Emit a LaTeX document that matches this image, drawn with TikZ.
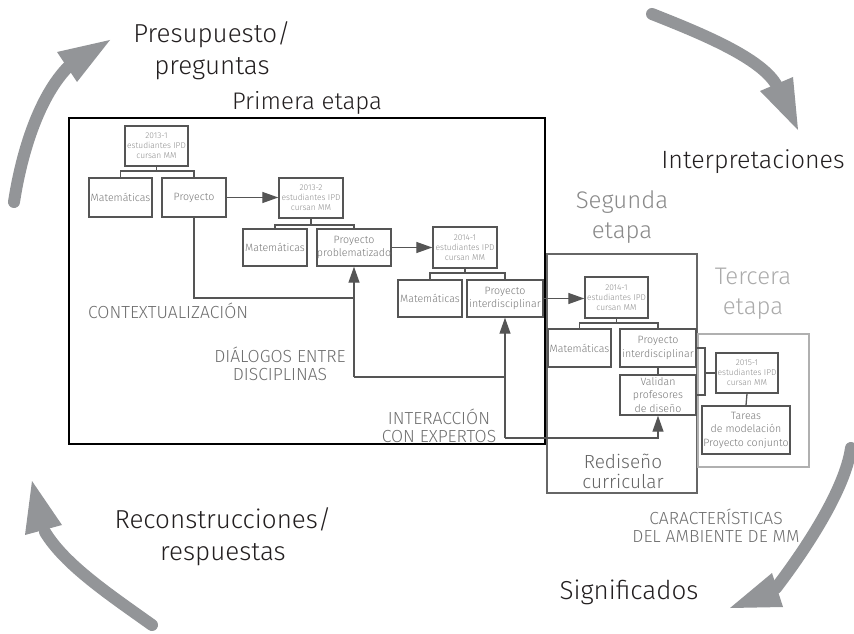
\documentclass[tikz,border=0pt]{standalone}
\usepackage{fontspec}
\IfFontExistsTF{FiraSans-Light.otf}{\setmainfont{FiraSans-Light.otf}}{\IfFontExistsTF{Fira Sans Light}{\setmainfont{Fira Sans Light}}{\setmainfont{Lato}}}
\usetikzlibrary{arrows.meta}
\definecolor{arrowgray}{HTML}{939598}
\definecolor{linegray}{HTML}{555555}
\definecolor{boxtxt}{HTML}{777777}
\definecolor{smalltxt}{HTML}{8C8C8C}
\definecolor{capgray}{HTML}{6E6E6E}
\definecolor{seggray}{HTML}{666666}
\definecolor{segtxt}{HTML}{8A8A8A}
\definecolor{tergray}{HTML}{B0B0B0}
\definecolor{tertxt}{HTML}{ABABAB}
\definecolor{nearblack}{HTML}{231F20}
\begin{document}
\begin{tikzpicture}[x=1pt,y=-1pt,
  box/.style={draw=linegray, line width=1.4pt, inner sep=0pt, align=center, text=boxtxt,
              font=\fontsize{10.6}{13.5}\selectfont},
  sbox/.style={box, text=smalltxt, font=\fontsize{8.4}{10}\selectfont},
  conn/.style={draw=linegray, line width=1.3pt},
  arr/.style={conn, -{Triangle[length=16pt,width=11pt]}},
  bigarrow/.style={draw=arrowgray, line width=12pt, line cap=round},
  biglbl/.style={font=\fontsize{26}{32}\selectfont, text=nearblack, align=center, inner sep=0pt},
  stagelbl/.style={font=\fontsize{24}{30}\selectfont, align=center, inner sep=0pt},
  redlbl/.style={font=\fontsize{19}{20}\selectfont, text=seggray, align=center, inner sep=0pt},
  caps/.style={font=\fontsize{17.5}{18}\selectfont, text=capgray, align=center, inner sep=0pt},
]
\useasboundingbox (0,0) rectangle (854,634);

% ---- big cycle arrows ----
\draw[bigarrow] (14,202) .. controls (22,150) and (40,95) .. (69,66);
\fill[arrowgray] (57,52) -- (110,40) -- (77,82) -- cycle;
\draw[bigarrow] (652,14) .. controls (700,33) and (762,58) .. (777,86);
\fill[arrowgray] (760,91) -- (793,77) -- (798,130) -- cycle;
\draw[bigarrow] (851,448) .. controls (845,490) and (805,550) .. (776,588);
\fill[arrowgray] (772,573) -- (783,607) -- (730,608) -- cycle;
\draw[bigarrow] (152,625) .. controls (110,595) and (65,565) .. (45,532);
\fill[arrowgray] (25,535) -- (62,525) -- (32,481) -- cycle;

% ---- labels ----
\node[biglbl] (pres) at (212,51) {Presupuesto/\\preguntas};
\node[biglbl, font=\fontsize{25}{32}\selectfont] (interp) at (753,162) {Interpretaciones};
\node[biglbl] (recon) at (223,537) {Reconstrucciones/\\respuestas};
\node[biglbl] (signif) at (629,592) {Significados};
\node[stagelbl, text=nearblack] (prim) at (307,103) {Primera etapa};
\node[stagelbl, text=segtxt] (seg) at (622,217) {Segunda\\etapa};
\node[stagelbl, text=tertxt] (ter) at (753,294) {Tercera\\etapa};
\node[redlbl] (redis) at (623,471) {Rediseño\\curricular};
\node[caps, anchor=west] (ctx) at (88,311) {CONTEXTUALIZACIÓN};
\node[caps] (dial) at (280,364) {DIÁLOGOS ENTRE\\DISCIPLINAS};
\node[caps] (inter) at (439,426) {INTERACCIÓN\\CON EXPERTOS};
\node[caps] (carac) at (716,526) {CARACTERÍSTICAS\\DEL AMBIENTE DE MM};

% ---- stage frames ----
\draw[black, line width=2.8pt] (69,118) rectangle (545,444);
\draw[seggray, line width=2.4pt] (547,254) rectangle (697,493);
\draw[tergray, line width=2.4pt] (698,334) rectangle (809,467);

% ---- boxes ----
\node[sbox, minimum width=63pt, minimum height=40pt] (a1) at (156.5,146) {2013-1\\estudiantes IPD\\cursan MM};
\node[box, minimum width=63pt, minimum height=39pt] (m1) at (120.5,197.5) {Matemáticas};
\node[box, minimum width=64pt, minimum height=39pt] (p1) at (194,197.5) {Proyecto};
\node[sbox, minimum width=64pt, minimum height=40pt] (a2) at (311,198) {2013-2\\estudiantes IPD\\cursan MM};
\node[box, minimum width=64pt, minimum height=37pt] (m2) at (275,247.5) {Matemáticas};
\node[box, minimum width=72pt, minimum height=37pt] (p2) at (354,247.5) {Proyecto\\problematizado};
\node[sbox, minimum width=64pt, minimum height=41pt] (a3) at (465,247.5) {2014-1\\estudiantes IPD\\cursan MM};
\node[box, minimum width=64pt, minimum height=37pt] (m3) at (430,298.5) {Matemáticas};
\node[box, minimum width=76pt, minimum height=37pt] (p3) at (505,298.5) {Proyecto\\interdisciplinar};
\node[sbox, minimum width=63pt, minimum height=41pt] (a4) at (616.5,297.5) {2014-1\\estudiantes IPD\\cursan MM};
\node[box, minimum width=63pt, minimum height=38pt] (m4) at (579.5,348) {Matemáticas};
\node[box, minimum width=76pt, minimum height=38pt] (p4) at (658,348) {Proyecto\\interdisciplinar};
\node[box, minimum width=76pt, minimum height=40pt] (v) at (658,395) {Validan\\profesores\\de diseño};
\node[sbox, minimum width=62pt, minimum height=40pt] (a5) at (747,373) {2015-1\\estudiantes IPD\\cursan MM};
\node[box, minimum width=88pt, minimum height=48pt] (t) at (746,430) {Tareas\\de modelación\\Proyecto conjunto};

% ---- tree connectors ----
\coordinate (j1) at (156.5,171);
\draw[conn] (a1.south) -- (j1) (m1.north) |- (j1) -| (p1.north);
\coordinate (j2) at (311,225);
\draw[conn] (a2.south) -- (j2) (m2.north) |- (j2) -| (p2.north);
\coordinate (j3) at (465,273);
\draw[conn] (a3.south) -- (j3) (m3.north) |- (j3) -| (p3.north);
\coordinate (j4) at (616.5,323);
\draw[conn] (a4.south) -- (j4) (m4.north) |- (j4) -| (p4.north);
\draw[conn] (p4.south) -- (v.north);
\draw[conn] (a5.south) -- (t.north);

% ---- stage arrows ----
\draw[arr] (p1.east) -- (p1.east -| a2.west);
\draw[arr] (p2.east) -- (p2.east -| a3.west);
\draw[arr] (p3.east) -- (p3.east -| a4.west);

% ---- bracket to 2015-1 ----
\coordinate (b1) at (705,348);
\coordinate (b2) at (705,395);
\draw[conn] (p4.east) -- (b1) -- (b2) -- (v.east);
\draw[conn] (a5.west) -- (a5.west -| b1);

% ---- feedback lines ----
\coordinate (c1) at (354,298);
\coordinate (c2) at (354,377);
\coordinate (c3) at (505,377);
\coordinate (c4) at (505,438);
\coordinate (c5) at (658,438);
\draw[conn] (p1.south) |- (c1);
\draw[arr] (c2) -- (p2.south);
\draw[conn] (c2) -- (c3);
\draw[arr] (c4) -- (p3.south);
\draw[arr] (c4) -- (c5) -- (v.south);
\end{tikzpicture}
\end{document}
